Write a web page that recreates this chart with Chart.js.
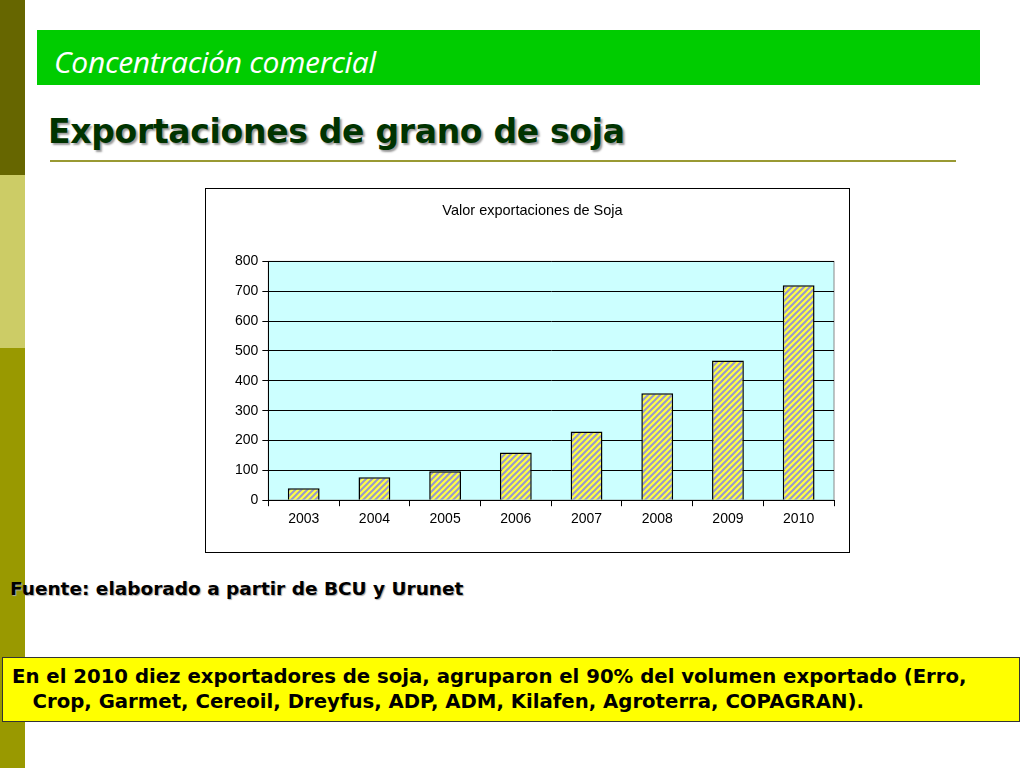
<!DOCTYPE html>
<html><head><meta charset="utf-8">
<script src="https://cdn.jsdelivr.net/npm/chart.js"></script>
<style>
body{margin:0;width:1024px;height:768px;position:relative;background:#fff;font-family:"DejaVu Sans",Verdana,sans-serif;overflow:hidden}
.s{position:absolute;left:0;width:25px}
#hdr{position:absolute;left:37px;top:30px;width:943px;height:55px;background:#00cc00}
#hdr span{position:absolute;left:17px;top:11px;color:#fff;font-family:"Open Sans",sans-serif;font-style:italic;font-size:30px;letter-spacing:-0.3px}
#title{position:absolute;left:48px;top:112px;font-weight:bold;font-size:33px;color:#003300;text-shadow:2px 2px 2px #999;letter-spacing:-0.3px}
#line{position:absolute;left:50px;top:160px;width:906px;height:2px;background:#999933}
#box{position:absolute;left:205px;top:188px;width:643px;height:363px;border:1.5px solid #000;background:#fff}
#src{position:absolute;left:10px;top:578px;font-weight:bold;font-size:18.5px;color:#000;text-shadow:1px 1px 1px #aaa}
#note{position:absolute;left:2px;top:657px;width:1018px;height:65px;background:#ffff00;border:1.5px solid #333;font-weight:bold;font-size:19.7px;line-height:25px;box-sizing:border-box;padding:6px 0 0 9px;white-space:nowrap}
</style></head><body>
<div class="s" style="top:0;height:175px;background:#666600"></div>
<div class="s" style="top:175px;height:173px;background:#cccc66"></div>
<div class="s" style="top:348px;height:420px;background:#999900"></div>
<div id="hdr"><span>Concentración comercial</span></div>
<div id="title">Exportaciones de grano de soja</div>
<div id="line"></div>
<div id="box"><canvas id="c" width="643" height="363"></canvas></div>
<div id="src">Fuente: elaborado a partir de BCU y Urunet</div>
<div id="note">En el 2010 diez exportadores de soja, agruparon el 90% del volumen exportado (Erro,<br>&nbsp;&nbsp;&nbsp;Crop, Garmet, Cereoil, Dreyfus, ADP, ADM, Kilafen, Agroterra, COPAGRAN).</div>
<script>
const years=["2003","2004","2005","2006","2007","2008","2009","2010"];
const values=[40,77,97,160,230,358,468,720];
const chartTitle="Valor exportaciones de Soja";

const pc=document.createElement('canvas');pc.width=6;pc.height=6;
const px=pc.getContext('2d');
px.fillStyle='#ffff44';px.fillRect(0,0,6,6);
px.strokeStyle='#9999cc';px.lineWidth=2;
px.beginPath();px.moveTo(-1,7);px.lineTo(7,-1);px.moveTo(-4,4);px.lineTo(4,-4);px.moveTo(2,10);px.lineTo(10,2);px.stroke();
const pat=document.getElementById('c').getContext('2d').createPattern(pc,'repeat');

const bg={id:'bg',beforeDraw(ch){const a=ch.chartArea,x=ch.ctx;x.save();x.fillStyle='#ccffff';x.fillRect(a.left,a.top,a.right-a.left,a.bottom-a.top);x.strokeStyle='#888';x.lineWidth=1;x.strokeRect(a.left,a.top,a.right-a.left,a.bottom-a.top);x.restore();}};
new Chart(document.getElementById('c'),{type:'bar',
data:{labels:years,datasets:[{data:values,backgroundColor:pat,borderColor:'#000',borderWidth:1.5,barPercentage:0.45,categoryPercentage:1}]},
options:{responsive:false,animation:false,
layout:{padding:{left:25,right:15,top:0,bottom:19}},
plugins:{legend:{display:false},tooltip:{enabled:false},
title:{display:true,text:chartTitle,color:'#000',font:{family:'Liberation Sans',size:14.5,weight:'normal'},padding:{top:13,bottom:42}}},
scales:{
x:{grid:{drawOnChartArea:false,color:'#000',tickLength:6},border:{color:'#000'},ticks:{color:'#000',font:{family:'Liberation Sans',size:14},padding:5}},
y:{min:0,max:800,grid:{color:'#000',tickLength:6},border:{color:'#000'},ticks:{stepSize:100,color:'#000',font:{family:'Liberation Sans',size:14},padding:4}}}},
plugins:[bg]});
</script></body></html>
